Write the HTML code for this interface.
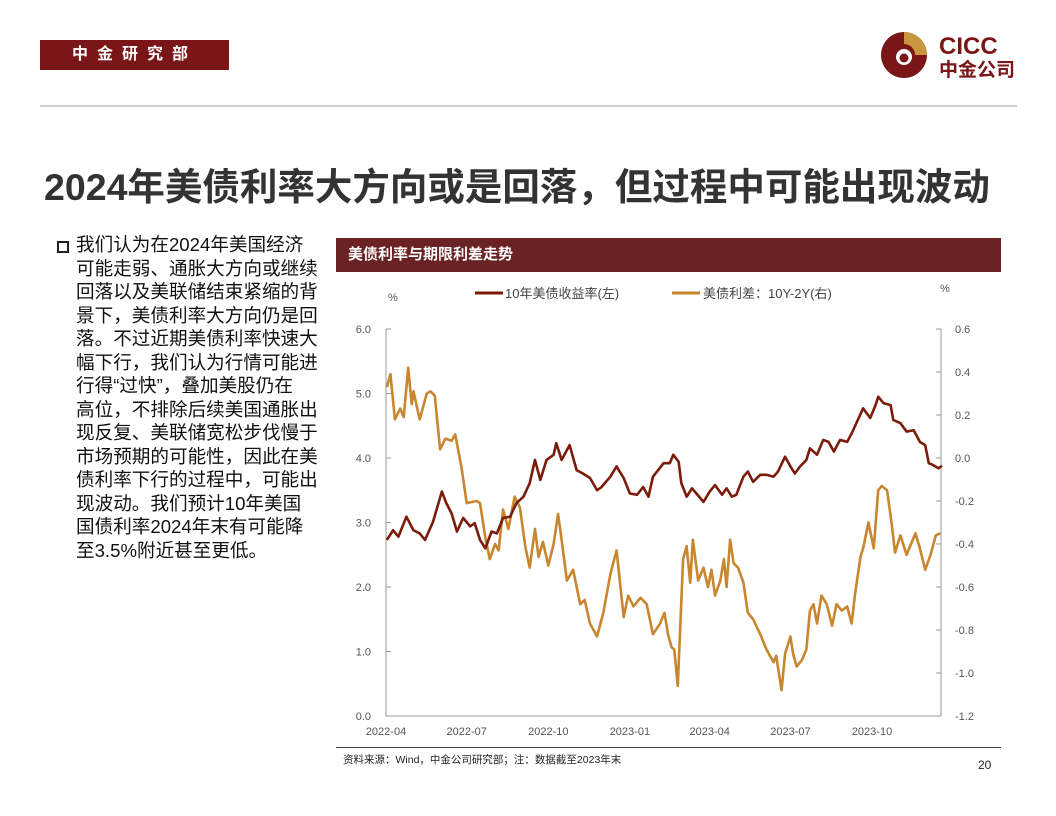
<!DOCTYPE html>
<html><head><meta charset="utf-8"><style>
body{margin:0;width:1056px;height:816px;background:#fff;font-family:"Liberation Sans","Noto Sans CJK SC",sans-serif;position:relative;overflow:hidden}
.abs{position:absolute}
</style></head><body>
<div class="abs" style="left:40px;top:40px;width:189px;height:30px;background:#7a1618;color:#fff;font-size:16px;font-weight:bold;letter-spacing:9px;line-height:30px;text-align:center">中金研究部</div>
<svg class="abs" style="left:878px;top:28px" width="145" height="56" viewBox="0 0 145 56">
<circle cx="26" cy="27" r="23" fill="#7a1618"/>
<path d="M26 4 A23 23 0 0 1 49 27 L37 27 A11 11 0 0 0 26 16 Z" fill="#c8963e"/>
<circle cx="26" cy="29" r="8" fill="#fff"/><circle cx="26" cy="30" r="4.5" fill="#7a1618"/>
<text x="61" y="26" font-size="24" font-weight="bold" fill="#7a1618" font-family="Liberation Sans">CICC</text>
<text x="61" y="48" font-size="19" font-weight="bold" fill="#7a1618" font-family="Noto Sans CJK SC">中金公司</text>
</svg>
<div class="abs" style="left:40px;top:105px;width:977px;height:2px;background:#d0d0d0"></div>
<div class="abs" style="left:44px;top:156px;font-size:37.5px;font-weight:bold;color:#333;white-space:nowrap">2024年美债利率大方向或是回落，但过程中可能出现波动</div>
<div class="abs" style="left:57px;top:241px;width:8px;height:8px;border:2px solid #222"></div>
<div class="abs" style="left:76px;top:233px;font-size:18.6px;line-height:23.5px;color:#111;white-space:nowrap">我们认为在2024年美国经济<br>可能走弱、通胀大方向或继续<br>回落以及美联储结束紧缩的背<br>景下，美债利率大方向仍是回<br>落。不过近期美债利率快速大<br>幅下行，我们认为行情可能进<br>行得“过快”，叠加美股仍在<br>高位，不排除后续美国通胀出<br>现反复、美联储宽松步伐慢于<br>市场预期的可能性，因此在美<br>债利率下行的过程中，可能出<br>现波动。我们预计10年美国<br>国债利率2024年末有可能降<br>至3.5%附近甚至更低。</div>
<div class="abs" style="left:336px;top:238px;width:665px;height:34px;background:#6b2224;color:#fff;font-size:15px;font-weight:bold;line-height:34px;padding-left:12px;box-sizing:border-box">美债利率与期限利差走势</div>
<svg class="abs" id="chart" style="left:0;top:0" width="1056" height="816"></svg>
<div class="abs" style="left:336px;top:747px;width:665px;height:1px;background:#444"></div>
<div class="abs" style="left:343px;top:752px;font-size:10.5px;color:#222">资料来源：Wind，中金公司研究部；注：数据截至2023年末</div>
<div class="abs" style="left:978px;top:758px;font-size:12px;color:#222">20</div>
<script>
const leftTicks=[0,1,2,3,4,5,6];
const leftTickLabels=["0.0","1.0","2.0","3.0","4.0","5.0","6.0"];
const rightTicks=[-1.2,-1.0,-0.8,-0.6,-0.4,-0.2,0,0.2,0.4,0.6];
const rightTickLabels=["-1.2","-1.0","-0.8","-0.6","-0.4","-0.2","0.0","0.2","0.4","0.6"];
const xTickDays=[0,91,183,275,365,456,548];
const xTickLabels=["2022-04","2022-07","2022-10","2023-01","2023-04","2023-07","2023-10"];
// days since 2022-04-01
const yieldDays=[1,8,14,23,31,38,44,53,63,68,74,80,87,95,100,106,112,119,125,132,140,147,155,162,168,174,181,189,192,198,207,215,222,230,238,243,253,260,268,275,283,290,296,301,313,320,324,330,333,339,345,350,358,365,371,379,384,390,395,403,408,414,422,429,437,442,450,456,461,467,474,478,486,493,499,505,512,520,525,531,538,546,552,555,561,569,572,580,587,595,602,608,612,617,623,627];
const yield10y=[2.73,2.88,2.78,3.09,2.88,2.83,2.73,3.01,3.48,3.30,3.14,2.86,3.07,2.94,2.99,2.73,2.60,2.86,2.83,3.07,3.09,3.30,3.40,3.61,3.97,3.66,3.97,4.05,4.23,3.97,4.20,3.81,3.76,3.69,3.50,3.55,3.71,3.87,3.69,3.45,3.43,3.55,3.40,3.71,3.92,3.92,4.05,3.94,3.61,3.40,3.53,3.45,3.32,3.48,3.58,3.43,3.53,3.40,3.43,3.71,3.79,3.63,3.74,3.74,3.71,3.79,4.02,3.87,3.76,3.87,3.97,4.15,4.05,4.28,4.25,4.10,4.28,4.25,4.38,4.56,4.77,4.62,4.82,4.95,4.85,4.82,4.59,4.54,4.41,4.43,4.25,4.20,3.92,3.89,3.84,3.88];
const spreadDays=[1,5,10,16,20,25,29,31,38,46,50,55,61,67,74,78,85,91,102,106,112,117,123,127,132,138,145,151,157,162,168,172,177,183,189,194,198,204,211,219,224,230,238,245,253,260,268,273,279,287,294,301,309,314,318,322,325,329,335,339,343,346,352,358,363,367,371,377,381,384,388,392,397,403,408,414,422,429,437,440,446,450,456,459,463,469,474,478,482,486,491,497,503,508,514,520,525,529,535,538,544,550,555,559,565,570,574,580,587,597,602,608,614,620,625];
const spread10y2y=[0.33,0.39,0.18,0.23,0.19,0.42,0.25,0.31,0.18,0.30,0.31,0.29,0.04,0.09,0.08,0.11,-0.04,-0.21,-0.20,-0.21,-0.37,-0.47,-0.40,-0.43,-0.24,-0.33,-0.18,-0.23,-0.41,-0.51,-0.33,-0.46,-0.39,-0.50,-0.40,-0.26,-0.38,-0.57,-0.52,-0.68,-0.66,-0.77,-0.83,-0.72,-0.54,-0.43,-0.74,-0.64,-0.69,-0.65,-0.68,-0.82,-0.77,-0.72,-0.82,-0.88,-0.89,-1.06,-0.47,-0.41,-0.58,-0.38,-0.57,-0.51,-0.60,-0.52,-0.64,-0.57,-0.47,-0.60,-0.38,-0.49,-0.51,-0.58,-0.72,-0.75,-0.82,-0.89,-0.95,-0.92,-1.08,-0.91,-0.83,-0.91,-0.97,-0.94,-0.89,-0.71,-0.68,-0.77,-0.64,-0.68,-0.78,-0.68,-0.71,-0.69,-0.77,-0.63,-0.46,-0.42,-0.30,-0.42,-0.15,-0.13,-0.15,-0.30,-0.44,-0.36,-0.45,-0.35,-0.42,-0.52,-0.45,-0.36,-0.35];

const X0=386,X1=941,Y0=716,Y1=329;
const xs=d=>X0+d*(486/548);
const yl=v=>Y0-(v-0)/6*(Y0-Y1);
const yr=v=>Y0-(v+1.2)/1.8*(Y0-Y1);
const svg=document.getElementById('chart');
const NS='http://www.w3.org/2000/svg';
function mk(tag,attrs){const e=document.createElementNS(NS,tag);for(const k in attrs)e.setAttribute(k,attrs[k]);svg.appendChild(e);return e;}
let e;
e=mk('line',{x1:X0,y1:Y1,x2:X0,y2:Y0,stroke:'#999','stroke-width':1});


e=mk('line',{x1:X1,y1:Y1,x2:X1,y2:Y0,stroke:'#999','stroke-width':1});


e=mk('line',{x1:X0,y1:Y0,x2:X1,y2:Y0,stroke:'#999','stroke-width':1});


leftTicks.forEach((v,i)=>{
 const t=mk('line',{x1:X0,y1:yl(v),x2:X0+5,y2:yl(v),stroke:'#999'});
 
 
 const l=mk('text',{x:371,y:yl(v)+4,'font-size':11,fill:'#555','text-anchor':'end','font-family':'Liberation Sans'});
 l.textContent=leftTickLabels[i];
 
 
});
rightTicks.forEach((v,i)=>{
 const t=mk('line',{x1:X1-5,y1:yr(v),x2:X1,y2:yr(v),stroke:'#999'});
 
 
 const l=mk('text',{x:955,y:yr(v)+4,'font-size':11,fill:'#555','font-family':'Liberation Sans'});
 l.textContent=rightTickLabels[i];
 
 
});
xTickDays.forEach((d,i)=>{
 const l=mk('text',{x:xs(d),y:735,'font-size':11,fill:'#555','text-anchor':'middle','font-family':'Liberation Sans'});
 l.textContent=xTickLabels[i];
 
 
});
e=mk('text',{x:388,y:301,'font-size':11,fill:'#555','font-family':'Liberation Sans'});e.textContent='%';


e=mk('text',{x:940,y:292,'font-size':11,fill:'#555','font-family':'Liberation Sans'});e.textContent='%';


e=mk('polyline',{points:spreadDays.map((d,i)=>xs(d)+','+yr(spread10y2y[i])).join(' '),fill:'none',stroke:'#c8862e','stroke-width':2.6,'stroke-linejoin':'round'});


e=mk('polyline',{points:yieldDays.map((d,i)=>xs(d)+','+yl(yield10y[i])).join(' '),fill:'none',stroke:'#7b1c0a','stroke-width':2.6,'stroke-linejoin':'round'});


e=mk('line',{x1:475,y1:293,x2:503,y2:293,stroke:'#7b1c0a','stroke-width':3});


e=mk('text',{x:505,y:298,'font-size':13,fill:'#444','font-family':'Liberation Sans, Noto Sans CJK SC'});e.textContent='10年美债收益率(左)';


e=mk('line',{x1:672,y1:293,x2:700,y2:293,stroke:'#c8862e','stroke-width':3});


e=mk('text',{x:703,y:298,'font-size':13,fill:'#444','font-family':'Liberation Sans, Noto Sans CJK SC'});e.textContent='美债利差：10Y-2Y(右)';


</script>
</body></html>
